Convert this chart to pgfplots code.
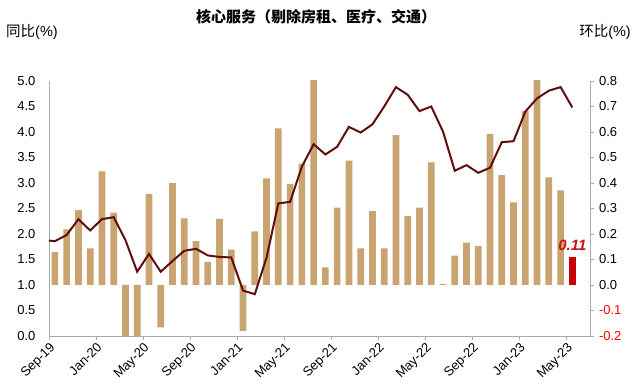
\documentclass[border=0pt]{standalone}
\usepackage{pgfplots}
\pgfplotsset{compat=1.18}
\usepackage{fontspec}
\setmainfont{Liberation Sans}
\newfontfamily\cjk{Noto Sans CJK SC}
\definecolor{bartan}{RGB}{201,164,112}
\definecolor{barred}{RGB}{200,0,0}
\definecolor{labred}{RGB}{200,16,16}
\definecolor{linecol}{RGB}{96,14,14}
\definecolor{axisgray}{RGB}{170,170,170}
\begin{document}
\begin{tikzpicture}[x=1pt,y=1pt]
\useasboundingbox (0,0) rectangle (640,391);
% bars (right axis)
\begin{axis}[at={(49pt,55pt)}, anchor=south west, scale only axis,
  width=541pt, height=255pt,
  xmin=-0.5, xmax=45.5, ymin=-0.2, ymax=0.8,
  axis y line*=right, axis x line=none,
  axis line style={-,draw=axisgray,line width=0.8pt},
  ytick={-0.2,-0.1,0,0.1,0.2,0.3,0.4,0.5,0.6,0.7,0.8},
  yticklabels={\textcolor{red}{-0.2},\textcolor{red}{-0.1},0.0,0.1,0.2,0.3,0.4,0.5,0.6,0.7,0.8},
  tick align=outside, major tick length=3.5pt,
  ytick style={draw=axisgray,line width=0.8pt},
  yticklabel style={font=\fontsize{13}{13}\selectfont, anchor=west, xshift=2pt},
]
\addplot[ybar, fill=bartan, draw=none, bar width=6.7pt, bar shift=0pt] coordinates {
(0,0.13) (1,0.218) (2,0.294) (3,0.144) (4,0.446) (5,0.284) (6,-0.23) (7,-0.23)
(8,0.356) (9,-0.166) (10,0.399) (11,0.261) (12,0.172) (13,0.090) (14,0.259) (15,0.139)
(16,-0.180) (17,0.21) (18,0.418) (19,0.614) (20,0.397) (21,0.476) (22,0.81) (23,0.069)
(24,0.303) (25,0.488) (26,0.144) (27,0.29) (28,0.144) (29,0.588) (30,0.27) (31,0.303)
(32,0.481) (33,0.004) (34,0.115) (35,0.166) (36,0.152) (37,0.593) (38,0.431) (39,0.324)
(40,0.682) (41,0.81) (42,0.422) (43,0.371)
};
\addplot[ybar, fill=barred, draw=none, bar width=6.7pt, bar shift=0pt,
  point meta=explicit symbolic, nodes near coords,
  nodes near coords style={font=\bfseries\itshape\fontsize{15}{15}\selectfont, text=labred, anchor=south, yshift=3pt}]
  coordinates {(44,0.11) [0.11]};
\end{axis}
% line (left axis)
\begin{axis}[at={(49pt,55pt)}, anchor=south west, scale only axis,
  width=541pt, height=255pt,
  xmin=-0.5, xmax=45.5, ymin=0, ymax=5,
  axis y line*=left, axis x line*=bottom,
  axis line style={-,draw=axisgray,line width=0.8pt},
  ytick={0,0.5,1,1.5,2,2.5,3,3.5,4,4.5,5},
  yticklabels={0.0,0.5,1.0,1.5,2.0,2.5,3.0,3.5,4.0,4.5,5.0},
  ytick style={draw=none},
  yticklabel style={font=\fontsize{13}{13}\selectfont, anchor=east, xshift=-6pt},
  xtick={-0.5,3.5,7.5,11.5,15.5,19.5,23.5,27.5,31.5,35.5,39.5,43.5},
  xticklabels={Sep-19,Jan-20,May-20,Sep-20,Jan-21,May-21,Sep-21,Jan-22,May-22,Sep-22,Jan-23,May-23},
  tick align=outside, major tick length=4pt,
  xtick style={draw=axisgray,line width=0.8pt},
  xticklabel style={font=\fontsize{13}{13}\selectfont, rotate=45, anchor=north east, inner sep=1pt},
]
\addplot[linecol, line width=2pt, mark=none] coordinates {
(-1,1.88) (0,1.86) (1,1.98) (2,2.29) (3,2.07) (4,2.29) (5,2.33) (6,1.88) (7,1.26)
(8,1.61) (9,1.26) (10,1.47) (11,1.67) (12,1.71) (13,1.58) (14,1.55) (15,1.54)
(16,0.89) (17,0.82) (18,1.54) (19,2.60) (20,2.63) (21,3.32) (22,3.76) (23,3.56)
(24,3.71) (25,4.10) (26,3.99) (27,4.15) (28,4.50) (29,4.88) (30,4.73) (31,4.41)
(32,4.50) (33,4.01) (34,3.24) (35,3.35) (36,3.20) (37,3.30) (38,3.80) (39,3.82)
(40,4.40) (41,4.66) (42,4.81) (43,4.88) (44,4.48)
};
\end{axis}
\node[font=\cjk\bfseries\fontsize{15}{15}\selectfont] at (316,374) {核心服务（剔除房租、医疗、交通）};
\node[anchor=west, font=\fontsize{14.5}{14.5}\selectfont, inner sep=0pt] at (6,359) {{\cjk 同比}(\%)};
\node[anchor=east, font=\fontsize{14.5}{14.5}\selectfont, inner sep=0pt] at (631,359) {{\cjk 环比}(\%)};
\end{tikzpicture}
\end{document}
